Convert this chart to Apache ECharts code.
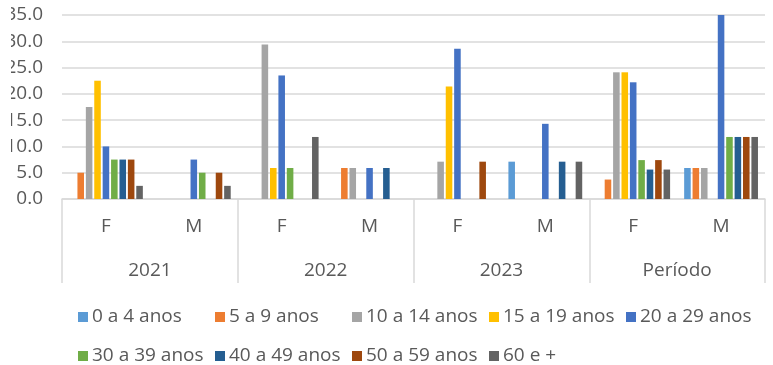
<!DOCTYPE html>
<html>
<head>
<meta charset="utf-8">
<script src="https://cdn.jsdelivr.net/npm/echarts@6/dist/echarts.min.js"></script>
<style>
html,body{margin:0;padding:0;background:#fff;}
#chart{width:773px;height:365px;}
</style>
</head>
<body>
<div id="chart"></div>
<script>
// ---- data ----
var sexLabels = ['F', 'M', 'F', 'M', 'F', 'M', 'F', 'M'];
var periodLabels = ['2021', '2022', '2023', 'Período'];
var ageGroups = ['0 a 4 anos', '5 a 9 anos', '10 a 14 anos', '15 a 19 anos', '20 a 29 anos',
                 '30 a 39 anos', '40 a 49 anos', '50 a 59 anos', '60 e +'];
// values per age group, in order: 2021 F, 2021 M, 2022 F, 2022 M, 2023 F, 2023 M, Período F, Período M
var age0_4   = [0,    0,   0,    0,   0,    7.1,  0,    5.9];
var age5_9   = [5.0,  0,   0,    5.9, 0,    0,    3.7,  5.9];
var age10_14 = [17.5, 0,   29.4, 5.9, 7.1,  0,    24.1, 5.9];
var age15_19 = [22.5, 0,   5.9,  0,   21.4, 0,    24.1, 0];
var age20_29 = [10.0, 7.5, 23.5, 5.9, 28.6, 14.3, 22.2, 35.3];
var age30_39 = [7.5,  5.0, 5.9,  0,   0,    0,    7.4,  11.8];
var age40_49 = [7.5,  0,   0,    5.9, 0,    7.1,  5.6,  11.8];
var age50_59 = [7.5,  5.0, 0,    0,   7.1,  0,    7.4,  11.8];
var age60p   = [2.5,  2.5, 11.8, 0,   0,    7.1,  5.6,  11.8];
var yTicks = [0, 5, 10, 15, 20, 25, 30, 35];

var seriesValues = [age0_4, age5_9, age10_14, age15_19, age20_29, age30_39, age40_49, age50_59, age60p];
var colors = ['#5B9BD5', '#ED7D31', '#A5A5A5', '#FFC000', '#4472C4', '#70AD47', '#255E91', '#9E480E', '#636363'];

var FONT = '"Open Sans", sans-serif';
var TXT = '#595959';
var GRID = '#d9d9d9';

var series = ageGroups.map(function (name, i) {
  return {
    name: name,
    type: 'bar',
    xAxisIndex: 0,
    yAxisIndex: 0,
    data: seriesValues[i],
    itemStyle: { color: colors[i] },
    barCategoryGap: '16%',
    barGap: '28%',
    clip: true,
    emphasis: { disabled: true }
  };
});

var legends = ageGroups.map(function (name, i) {
  var row = i < 5 ? 0 : 1;
  var col = i < 5 ? i : i - 5;
  return {
    data: [name],
    left: 78 + 137 * col,
    top: row === 0 ? 306 : 345,
    padding: 0,
    itemWidth: 10,
    itemHeight: 10,
    icon: 'rect',
    selectedMode: false,
    textStyle: { fontFamily: FONT, fontSize: 19, color: TXT, lineHeight: 22, padding: [0, 0, 0, -1] }
  };
});

var chart = echarts.init(document.getElementById('chart'), null, { renderer: 'canvas' });
chart.setOption({
  animation: false,
  color: colors,
  grid: { left: 62, right: 8, top: 15, height: 184, containLabel: false },
  legend: legends,
  xAxis: [
    {
      type: 'category',
      data: sexLabels,
      position: 'bottom',
      axisLine: { show: true, lineStyle: { color: GRID, width: 1.5 } },
      axisTick: { show: false },
      axisLabel: { interval: 0, margin: 18, fontFamily: FONT, fontSize: 19, color: TXT }
    },
    {
      type: 'category',
      data: periodLabels,
      position: 'bottom',
      axisLine: { show: false },
      axisTick: { show: true, interval: 0, length: 84, lineStyle: { color: GRID, width: 1.5 } },
      axisLabel: { interval: 0, margin: 62, fontFamily: FONT, fontSize: 19, color: TXT }
    }
  ],
  yAxis: {
    type: 'value',
    min: yTicks[0],
    max: yTicks[yTicks.length - 1],
    interval: 5,
    axisLine: { show: false },
    axisTick: { show: false },
    splitLine: { show: true, lineStyle: { color: GRID, width: 1.5 } },
    axisLabel: {
      margin: 19,
      fontFamily: FONT,
      fontSize: 19,
      color: TXT,
      formatter: function (v) { return v.toFixed(1); }
    }
  },
  graphic: [
    { type: 'rect', left: 0, top: 0, z: 100, shape: { width: 11, height: 210 }, style: { fill: '#fff' } }
  ],
  series: series
});
</script>
</body>
</html>
